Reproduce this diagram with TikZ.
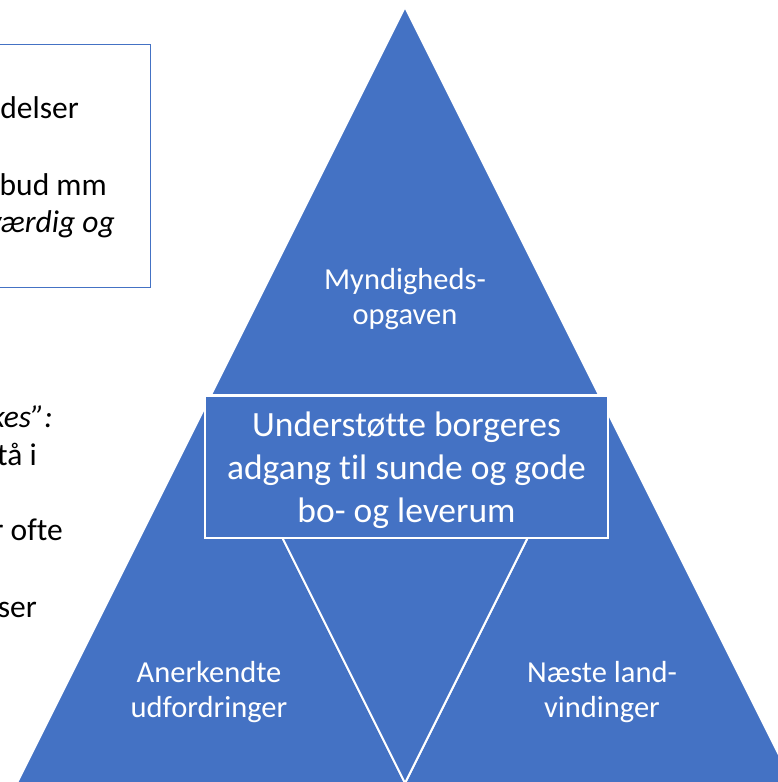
\documentclass[tikz,border=0pt]{standalone}
\usepackage{fontspec}
\setmainfont{Carlito}[Ligatures=NoCommon]
\definecolor{pblue}{HTML}{4472C4}
\begin{document}
\begin{tikzpicture}[x=1pt,y=-1pt]
\tikzset{
  tri/.style={fill=pblue, draw=white, line width=2pt, line join=miter},
  wlabel/.style={text=white, align=center, inner sep=0pt, font=\fontsize{30.5}{35}\selectfont},
  blabel/.style={text=black, anchor=base east, inner sep=0pt, font=\fontsize{31.5}{36}\selectfont},
  centerbox/.style={fill=pblue, draw=white, line width=1.3pt, minimum width=403pt, minimum height=142pt,
    inner sep=0pt, text=white, align=center, font=\fontsize{35.5}{43}\selectfont},
  notebox/.style={draw=pblue, line width=1pt, minimum width=220pt, minimum height=243pt, inner sep=0pt}
}
\useasboundingbox (0,0) rectangle (778,782);
\fill[white] (0,0) rectangle (778,782);
\begin{scope}
\clip (0,0) rectangle (778,782);
% pyramid corners
\coordinate (A) at (405,7);
\coordinate (L) at (17,783);
\coordinate (R) at (793,783);
\coordinate (ML) at (211,395);
\coordinate (MR) at (599,395);
\coordinate (MB) at (405,783);
\filldraw[tri] (A) -- (MR) -- (ML) -- cycle;
\filldraw[tri] (ML) -- (MB) -- (L) -- cycle;
\filldraw[tri] (MR) -- (R) -- (MB) -- cycle;
\filldraw[tri] (ML) -- (MR) -- (MB) -- cycle;
% labels
\node[wlabel] (top) at (405,299) {Myndigheds-\\opgaven};
\node[wlabel] (left) at (209,692) {Anerkendte\\udfordringer};
\node[wlabel] (right) at (602,692) {Næste land-\\vindinger};
\node[centerbox] (center) at (406.5,467) {};
\node[text=white, align=center, inner sep=0pt, font=\fontsize{35.5}{43}\selectfont] (ctext) at (406.5,470)
  {Understøtte borgeres\\adgang til sunde og gode\\bo- og leverum};
% left note box (cut off by the page edge)
\node[notebox, anchor=north east] (note) at (151,44) {};
\node[blabel] (t1) at (79,118) {delser};
\node[blabel] (t2) at (107,195) {bud mm};
\node[blabel] (t3) at (115,232) {\itshape værdig og};
\node[blabel] (t4) at (53,427) {\textit{kes”:}};
\node[blabel] (t5) at (37,465) {tå i};
\node[blabel] (t6) at (63,540) {r ofte};
\node[blabel] (t7) at (37,617) {ser};
\end{scope}
\end{tikzpicture}
\end{document}
